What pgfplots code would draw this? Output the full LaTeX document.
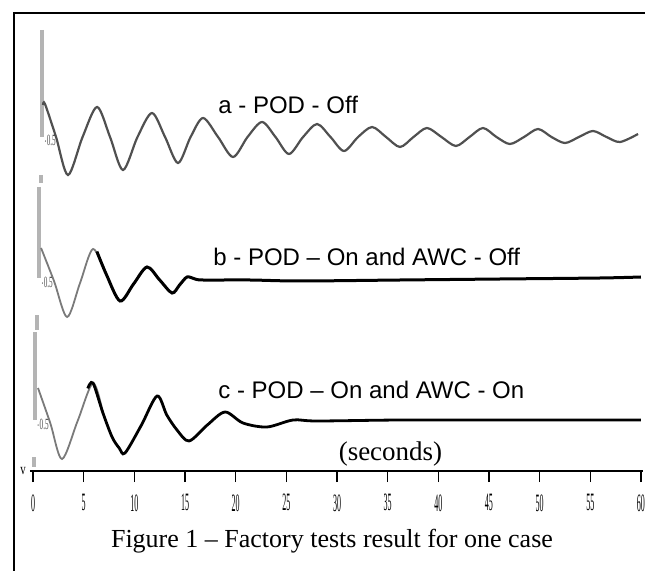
\documentclass[border=0pt]{standalone}
\usepackage{fontspec}
\setmainfont{Liberation Serif}
\newfontfamily\arial{Liberation Sans}[Ligatures=TeX]
\usepackage{graphicx}
\usepackage{pgfplots}
\usepackage{pgfplotstable}
\pgfplotsset{compat=1.18}

% narrow, tall digits of the recorder's time scale
\newcommand\sq[1]{\scalebox{0.8}[2.5]{\fontsize{5}{6}\selectfont #1}}
\newcommand\zm[1]{\scalebox{0.6}[1.3]{\fontsize{6}{6}\selectfont #1}}

\definecolor{traceA}{HTML}{505050}
\definecolor{traceEarly}{HTML}{7A7A7A}
\definecolor{axgray}{HTML}{B4B4B4}

% a - POD off (time in s, vertical position on the sheet)
\pgfplotstableread{
t y
0.99 366
1.18 367
2.27 334
3.45 296
4.89 334
6.32 364
7.60 334
8.88 301
10.31 334
11.74 358
13.03 334
14.31 308
15.55 334
16.78 353
18.26 334
19.74 314
21.17 334
22.60 349
23.93 334
25.26 317
26.65 334
28.03 347
29.36 334
30.69 320
32.08 334
33.46 344
34.84 334
36.22 324
37.55 334
38.88 343
40.31 334
41.74 325
43.08 334
44.41 343
45.74 334
47.07 327
48.46 334
49.84 342
51.17 334
52.50 328
53.88 334
55.26 340
56.60 334
57.93 329
59.71 337
}\dataA

% b - POD on, AWC off
\pgfplotstableread{
t y
0.79 223
2.07 190
3.36 154
4.64 188
5.92 222
7.26 196
}\dataBearly
\pgfplotstableread{
t y
6.30 219.5
7.26 196
8.59 170
9.92 187
11.25 204
12.50 191
13.72 178
14.46 186
15.20 194
16.00 192
16.78 191
21.42 191
26.35 190
36.22 191
46.09 192
55.96 193
60.00 194
}\dataB

% c - POD on, AWC on
\pgfplotstableread{
t y
0.49 83
1.70 48
2.86 12
4.40 50
5.92 88
6.90 58
}\dataCearly
\pgfplotstableread{
t y
5.40 82.6
5.92 88
6.90 58
7.80 34
8.50 23
9.08 18
10.70 46
12.24 75
13.20 56
14.21 41
15.40 30
17.20 46
18.95 59
20.72 48
23.09 44
25.66 51
28.03 50
36.22 51
46.09 51
60.00 51
}\dataC

\begin{document}
\begin{tikzpicture}[x=1pt,y=1pt]
\useasboundingbox (-15,-49.5) rectangle (307.5,235.5);
\clip (-15,-49.5) rectangle (307.5,235.5);

% frame of the figure
\draw[line width=1pt] (-8,-60) -- (-8,229) -- (320,229);

\begin{axis}[
  at={(0,0)}, anchor=south west,
  scale only axis, width=306.5pt, height=229pt,
  xmin=-0.3, xmax=60.2, ymin=0, ymax=458,
  axis x line*=bottom, axis y line=none,
  x axis line style={-, line width=1.2pt},
  xtick={0,5,...,60},
  xticklabels={\sq{0},\sq{5},\sq{10},\sq{15},\sq{20},\sq{25},\sq{30},\sq{35},\sq{40},\sq{45},\sq{50},\sq{55},\sq{60}},
  tick align=outside, major tick length=5.5pt,
  xtick style={line width=0.6pt, black},
  xticklabel style={anchor=north, inner sep=0pt, yshift=-6pt},
  clip=false,
]
% vertical scales of the three records
\addplot[no markers, axgray, line width=1.6pt] coordinates {(0.89,441) (0.89,334)};
\addplot[no markers, axgray, line width=1.6pt] coordinates {(0.79,296) (0.79,288)};
\addplot[no markers, axgray, line width=1.6pt] coordinates {(0.59,284) (0.59,193)};
\addplot[no markers, axgray, line width=1.6pt] coordinates {(0.39,156) (0.39,141)};
\addplot[no markers, axgray, line width=1.6pt] coordinates {(0.20,139) (0.20,51)};
\addplot[no markers, axgray, line width=1.6pt] coordinates {(0.10,14) (0.10,4)};

% records
\addplot[no markers, smooth, traceA, line width=1.1pt] table {\dataA};
\addplot[no markers, smooth, traceEarly, line width=0.9pt] table {\dataBearly};
\addplot[no markers, smooth, black, line width=1.5pt] table {\dataB};
\addplot[no markers, smooth, traceEarly, line width=0.9pt] table {\dataCearly};
\addplot[no markers, smooth, black, line width=1.4pt] table {\dataC};

\node[anchor=west, inner sep=0pt, text=traceA] at (axis cs:1.05,331) {\zm{$\cdot$0.5}};
\node[anchor=west, inner sep=0pt, text=traceA] at (axis cs:0.75,189) {\zm{$\cdot$0.5}};
\node[anchor=west, inner sep=0pt, text=traceA] at (axis cs:0.35,47) {\zm{$\cdot$0.5}};
\end{axis}

\node[inner sep=0pt] at (-3.5,0) {\scalebox{0.9}[1.3]{\fontsize{6}{6}\selectfont v}};

% record titles
\node[anchor=base west, inner sep=0.5pt, fill=white, font=\arial\fontsize{12}{14}\selectfont] at (93.5,179) {a - POD - Off};
\node[anchor=base west, inner sep=0.5pt, fill=white, font=\arial\fontsize{12}{14}\selectfont] at (91,103) {b - POD – On and AWC - Off};
\node[anchor=base west, inner sep=0.5pt, fill=white, font=\arial\fontsize{12}{14}\selectfont] at (93.5,36.5) {c - POD – On and AWC - On};

\node[anchor=base, inner sep=0pt, font=\fontsize{13.5}{15}\selectfont] at (180.25,5.5) {(seconds)};
\node[anchor=base, inner sep=0pt, font=\fontsize{13}{15}\selectfont] at (151,-38) {Figure 1 – Factory tests result for one case};
\end{tikzpicture}
\end{document}
